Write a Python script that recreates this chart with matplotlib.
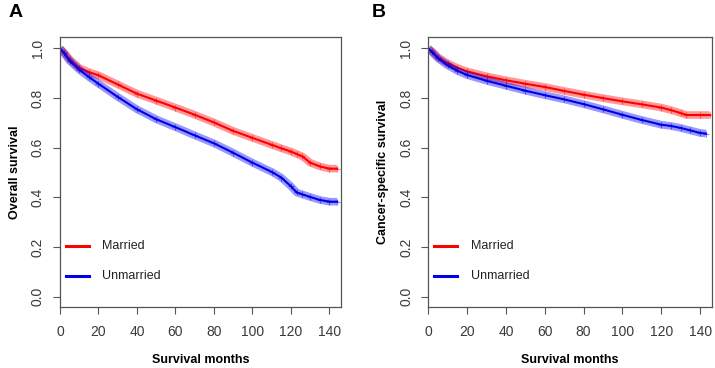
import matplotlib
matplotlib.use("Agg")
import matplotlib.pyplot as plt
import numpy as np

plt.rcParams['font.family'] = ['Liberation Sans', 'DejaVu Sans']

months = [0, 2, 5, 10, 15, 20, 30, 40, 50, 60, 70, 80, 90, 100, 110, 115, 120, 123, 126, 130, 135, 140, 144]
# Panel A: overall survival
os_married = [1.0, 0.985, 0.957, 0.922, 0.905, 0.892, 0.855, 0.818, 0.790, 0.762, 0.733, 0.702, 0.668, 0.640, 0.612, 0.598, 0.585, 0.575, 0.565, 0.540, 0.525, 0.516, 0.516]
os_unmarried = [1.0, 0.982, 0.950, 0.915, 0.885, 0.858, 0.805, 0.755, 0.715, 0.683, 0.650, 0.618, 0.580, 0.540, 0.503, 0.480, 0.445, 0.420, 0.412, 0.402, 0.390, 0.383, 0.383]
# Panel B: cancer-specific survival
css_months_m = [0, 2, 5, 10, 15, 20, 30, 40, 50, 60, 70, 80, 90, 100, 110, 120, 125, 130, 133, 140, 145]
css_married = [1.0, 0.988, 0.965, 0.940, 0.922, 0.908, 0.888, 0.872, 0.858, 0.845, 0.829, 0.814, 0.800, 0.787, 0.775, 0.762, 0.752, 0.740, 0.732, 0.732, 0.732]
css_months_u = [0, 2, 5, 10, 15, 20, 30, 40, 50, 60, 70, 80, 90, 100, 110, 120, 125, 130, 135, 140, 143]
css_unmarried = [1.0, 0.985, 0.960, 0.932, 0.910, 0.893, 0.870, 0.850, 0.830, 0.812, 0.795, 0.776, 0.755, 0.733, 0.712, 0.693, 0.688, 0.680, 0.670, 0.660, 0.657]

legend_labels = ["Married", "Unmarried"]
xticks = [0, 20, 40, 60, 80, 100, 120, 140]
yticks = [0.0, 0.2, 0.4, 0.6, 0.8, 1.0]

RED = "#ff0000"
BLUE = "#0000ee"

fig = plt.figure(figsize=(7.15, 3.68), dpi=100)
axA = fig.add_axes([0.0839, 0.1666, 0.393, 0.732])
axB = fig.add_axes([0.599, 0.1666, 0.3964, 0.732])

def draw(ax, xm, ym, xu, yu, ylabel):
    for x, y, c in [(xm, ym, RED), (xu, yu, BLUE)]:
        ax.plot(x, y, color=c, lw=5.5, alpha=0.4, solid_capstyle='butt')
        ax.plot(x, y, color=c, lw=1.5)
        ax.plot(x[1:], y[1:], ls='none', marker='+', ms=5, mew=0.8, color=c, alpha=0.5)
    ax.set_xlim(0, 146)
    ax.set_ylim(-0.04, 1.045)
    ax.set_xticks(xticks)
    ax.set_xticklabels([str(t) for t in xticks])
    ax.set_yticks(yticks)
    ax.set_yticklabels(["%.1f" % t for t in yticks], rotation=90, va='center')
    ax.tick_params(axis='both', colors='#555555', labelcolor='#3a3a3a', labelsize=10,
                   length=5, width=0.8, direction='out')
    ax.tick_params(axis='x', pad=8)
    ax.tick_params(axis='y', pad=6)
    for s in ax.spines.values():
        s.set_color('#555555')
        s.set_linewidth(0.9)
    ax.set_xlabel("Survival months", fontsize=9, fontweight='bold', labelpad=11)
    ax.set_ylabel(ylabel, fontsize=9, fontweight='bold', labelpad=7)
    # legend
    ax.plot([3, 15], [0.203, 0.203], color=RED, lw=2.2)
    ax.plot([3, 15], [0.083, 0.083], color=BLUE, lw=2.2)
    ax.text(22, 0.203, legend_labels[0], fontsize=9, va='center', color='#222222')
    ax.text(22, 0.083, legend_labels[1], fontsize=9, va='center', color='#222222')

draw(axA, months, os_married, months, os_unmarried, "Overall survival")
draw(axB, css_months_m, css_married, css_months_u, css_unmarried, "Cancer-specific survival")

fig.text(0.012, 0.965, "A", fontsize=14, fontweight='bold', va='center')
fig.text(0.52, 0.965, "B", fontsize=14, fontweight='bold', va='center')

fig.savefig("out.png", dpi=100)
